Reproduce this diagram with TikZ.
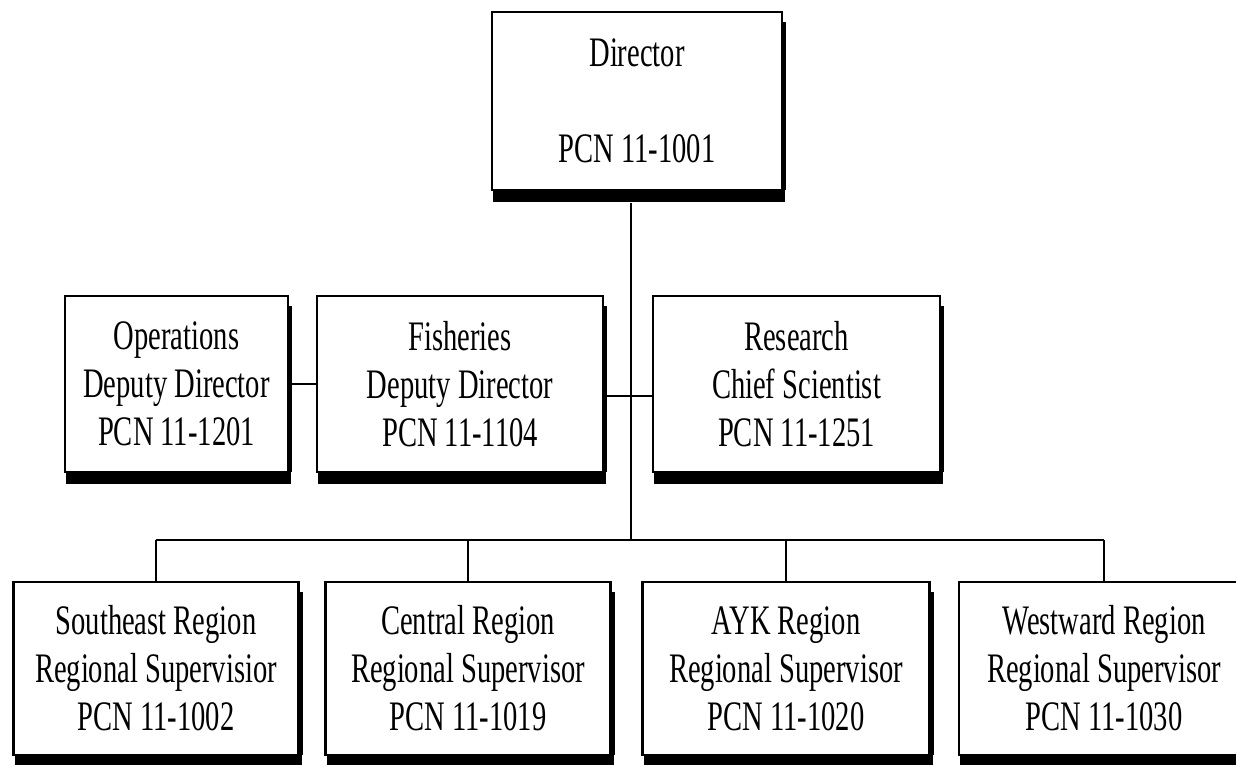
\documentclass[tikz,border=0pt]{standalone}
\usepackage{fontspec}
\setmainfont{Liberation Serif}[FakeStretch=0.68]
\newcommand\shadowit[1]{%
  \fill ([xshift=1pt]#1.south west) rectangle ([xshift=3pt,yshift=-12pt]#1.south east);
  \fill ([xshift=-1pt,yshift=-10pt]#1.north east) rectangle ([xshift=4pt]#1.south east);}
\begin{document}
\begin{tikzpicture}[x=1pt,y=1pt,
  box/.style={draw, line width=2.2pt, fill=white, inner sep=0pt, outer sep=0pt,
    align=center, font=\fontsize{42}{48}\selectfont},
  conn/.style={line width=2pt}]
\fill[white] (0,0) rectangle (1236,765);
\clip (0,0) rectangle (1236,765);
\useasboundingbox (0,0) rectangle (1236,765);

% boxes
\node[box, minimum width=290, minimum height=178] (dir) at (637,664) {Director\\[48pt]PCN 11-1001};
\node[box, minimum width=223, minimum height=176] (ops) at (176.5,381) {Operations\\Deputy Director\\PCN 11-1201};
\node[box, minimum width=286, minimum height=176] (fish) at (460,381) {Fisheries\\Deputy Director\\PCN 11-1104};
\node[box, minimum width=287, minimum height=176] (res) at (796.5,381) {Research\\Chief Scientist\\PCN 11-1251};
\node[box, minimum width=285, minimum height=173] (se) at (156,96.5) {Southeast Region\\Regional Supervisior\\PCN 11-1002};
\node[box, minimum width=285, minimum height=173] (cen) at (468,96.5) {Central Region\\Regional Supervisor\\PCN 11-1019};
\node[box, minimum width=287, minimum height=173] (ayk) at (786,96.5) {AYK Region\\Regional Supervisor\\PCN 11-1020};
\node[box, minimum width=290, minimum height=173] (west) at (1104,96.5) {Westward Region\\Regional Supervisor\\PCN 11-1030};

\foreach \b in {dir,ops,fish,res,se,cen,ayk,west}{\shadowit{\b}}

% connectors
\coordinate (bus) at (631,225);
\draw[conn] (dir.south -| bus) ++(0,-13) -- (bus);
\draw[conn] (se.north |- bus) -- (west.north |- bus);
\foreach \b in {se,cen,ayk,west}{\draw[conn] (\b.north |- bus) -- (\b.north);}
\draw[conn] ([xshift=4pt]ops.east) -- (fish.west);
\draw[conn] ([xshift=4pt,yshift=-12pt]fish.east) -- ([yshift=-12pt]res.west);
\end{tikzpicture}
\end{document}
